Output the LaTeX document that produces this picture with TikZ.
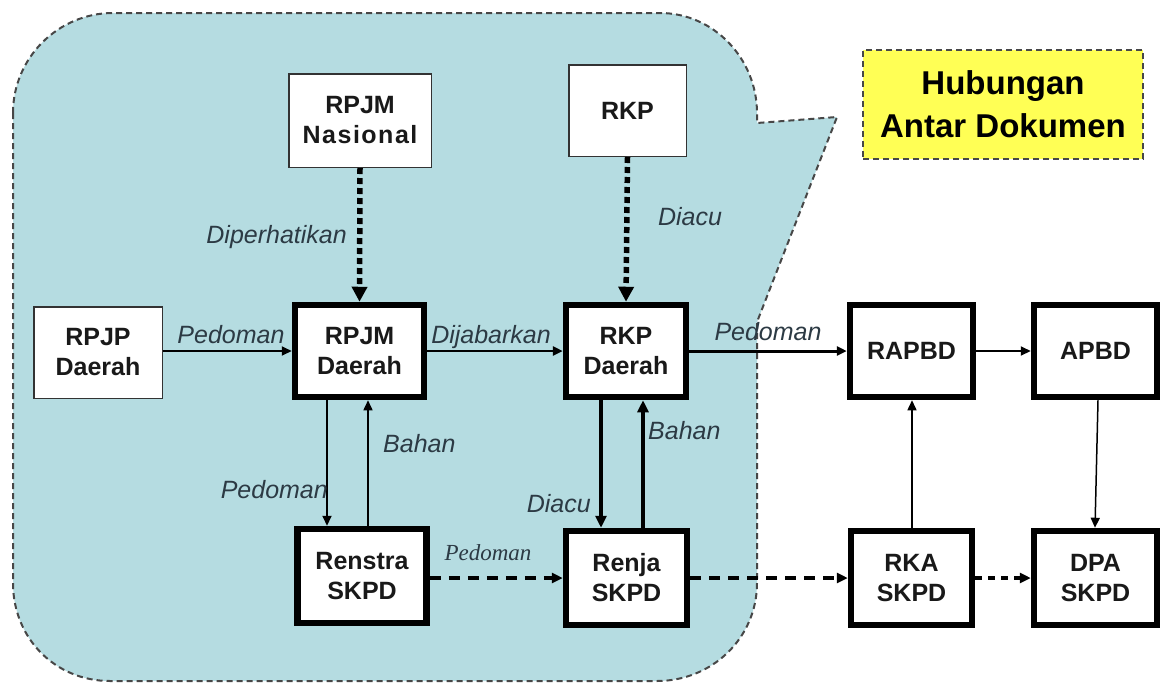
\documentclass[tikz,border=0pt]{standalone}
\usepackage{fontspec}
\setmainfont{Liberation Sans}
\newfontfamily\timesfont{Liberation Serif}
\usetikzlibrary{arrows.meta}
\definecolor{calloutfill}{HTML}{B5DCE1}
\definecolor{calloutline}{HTML}{474747}
\definecolor{labelcol}{HTML}{2C3A44}
\definecolor{notefill}{HTML}{FFFF55}
\tikzset{
  boxtext/.style={font=\bfseries\fontsize{25}{30}\selectfont, align=center, text=black!90, inner sep=0pt, rectangle},
  thinbox/.style={boxtext, draw=black!80, line width=1.5pt, fill=white},
  thickbox/.style={boxtext, draw=black, line width=6.5pt, fill=white},
  lbl/.style={font=\itshape\fontsize{25}{28}\selectfont, text=labelcol, inner sep=0pt},
  conn/.style={-{Triangle[length=10pt,width=9pt]}, black},
  dotconn/.style={black, line width=5.5pt, dash pattern=on 6pt off 4pt, -{Triangle[length=15pt,width=15pt]}},
  dashconn/.style={black, line width=3.5pt, dash pattern=on 11pt off 8pt, -{Triangle[length=11pt,width=10pt]}},
  callout/.style={fill=calloutfill, draw=calloutline, line width=2pt, dash pattern=on 6pt off 4pt},
}
\begin{document}
\begin{tikzpicture}[x=1pt,y=-1pt]
\fill[white] (0,0) rectangle (1164,683);
\useasboundingbox (0,0) rectangle (1164,683);

% callout background
\draw[callout] (13,113) .. controls (13,58) and (58,13) .. (113,13) -- (660,13)
  .. controls (714,13) and (757,59) .. (757,113) -- (757,123) -- (837,117) -- (757,322)
  -- (757,583) .. controls (757,638) and (712,681) .. (657,681) -- (110,681)
  .. controls (55,681) and (13,638) .. (13,583) -- cycle;

% title note
\node[draw=calloutline, line width=2pt, dash pattern=on 6pt off 4pt, fill=notefill,
      minimum width=280pt, minimum height=109pt, align=center, inner sep=0pt,
      font=\bfseries\fontsize{33}{43}\selectfont] (note) at (1003,104.5) {Hubungan\\Antar Dokumen};

% thin boxes
\node[thinbox, minimum width=142.5pt, minimum height=93.5pt] (rpjmn) at (360,120.5)
  {RPJM\\{\addfontfeature{LetterSpace=6}Nasional}};
\node[thinbox, minimum width=117.5pt, minimum height=91.5pt] (rkp) at (627.5,110.5) {RKP};
\node[thinbox, minimum width=128.5pt, minimum height=91.5pt] (rpjp) at (98,352.5) {RPJP\\Daerah};

% thick boxes, middle row
\node[thickbox, minimum width=129pt, minimum height=92pt] (rpjmd) at (359.5,351) {RPJM\\Daerah};
\node[thickbox, minimum width=120pt, minimum height=92pt] (rkpd) at (626,351) {RKP\\Daerah};
\node[thickbox, minimum width=123pt, minimum height=92pt] (rapbd) at (911.5,351) {RAPBD};
\node[thickbox, minimum width=123pt, minimum height=92pt] (apbd) at (1095.5,351) {APBD};

% thick boxes, bottom row
\node[thickbox, minimum width=129pt, minimum height=94pt] (renstra) at (362,576) {Renstra\\SKPD};
\node[thickbox, minimum width=121pt, minimum height=94pt] (renja) at (626.5,578) {Renja\\SKPD};
\node[thickbox, minimum width=121pt, minimum height=94pt] (rka) at (911.5,578) {RKA\\SKPD};
\node[thickbox, minimum width=123pt, minimum height=94pt] (dpa) at (1095.5,578) {DPA\\SKPD};

% helper x positions
\coordinate (xa) at (327,0);
\coordinate (xb) at (368,0);
\coordinate (xc) at (601,0);
\coordinate (xd) at (643,0);
\coordinate (xe) at (912,0);

% horizontal connectors, middle row
\draw[conn, line width=2pt] (rpjp.east |- rpjmd.west) -- (rpjmd.west);
\draw[conn, line width=2.5pt] (rpjmd.east) -- (rkpd.west);
\draw[conn, line width=3pt] (rkpd.east) -- (rapbd.west);
\draw[conn, line width=2pt] (rapbd.east) -- (apbd.west);

% dotted connectors from national documents
\draw[dotconn] (rpjmn.south) -- (rpjmd.north);
\draw[dotconn] (rkp.south) -- (rkpd.north);

% vertical connectors
\draw[conn, line width=2pt] (rpjmd.south -| xa) -- (renstra.north -| xa);
\draw[conn, line width=1.5pt] (renstra.north -| xb) -- (rpjmd.south -| xb);
\draw[conn, line width=3.5pt, -{Triangle[length=12pt,width=11pt]}] (rkpd.south -| xc) -- (renja.north -| xc);
\draw[conn, line width=3.5pt, -{Triangle[length=12pt,width=11pt]}] (renja.north -| xd) -- (rkpd.south -| xd);
\draw[conn, line width=1.5pt] (rka.north -| xe) -- (rapbd.south -| xe);
\draw[conn, line width=1.5pt] ([xshift=2.5pt]apbd.south) -- ([xshift=-0.5pt]dpa.north);

% dashed connectors, bottom row
\draw[dashconn] (renstra.east |- renja.west) -- (renja.west);
\draw[dashconn] (renja.east) -- (rka.west);
\draw[dashconn, dash pattern=on 7pt off 6pt] (rka.east) -- (dpa.west);

% labels
\node[lbl, anchor=base] (l1) at (231,343) {Pedoman};
\node[lbl, anchor=base] (l2) at (491,343) {Dijabarkan};
\node[lbl, anchor=base] (l3) at (768,340) {Pedoman};
\node[lbl, anchor=base east] (l4) at (347,243) {Diperhatikan};
\node[lbl, anchor=base] (l5) at (690,225) {Diacu};
\node[lbl, anchor=base west] (l6) at (383,452) {Bahan};
\node[lbl, anchor=base east] (l7) at (328,498) {Pedoman};
\node[lbl, anchor=base west] (l8) at (648,439) {Bahan};
\node[lbl, anchor=base east] (l9) at (591,512) {Diacu};
\node[lbl, anchor=base, font=\timesfont\itshape\fontsize{23}{27}\selectfont] (l10) at (488,560) {Pedoman};
\end{tikzpicture}
\end{document}
